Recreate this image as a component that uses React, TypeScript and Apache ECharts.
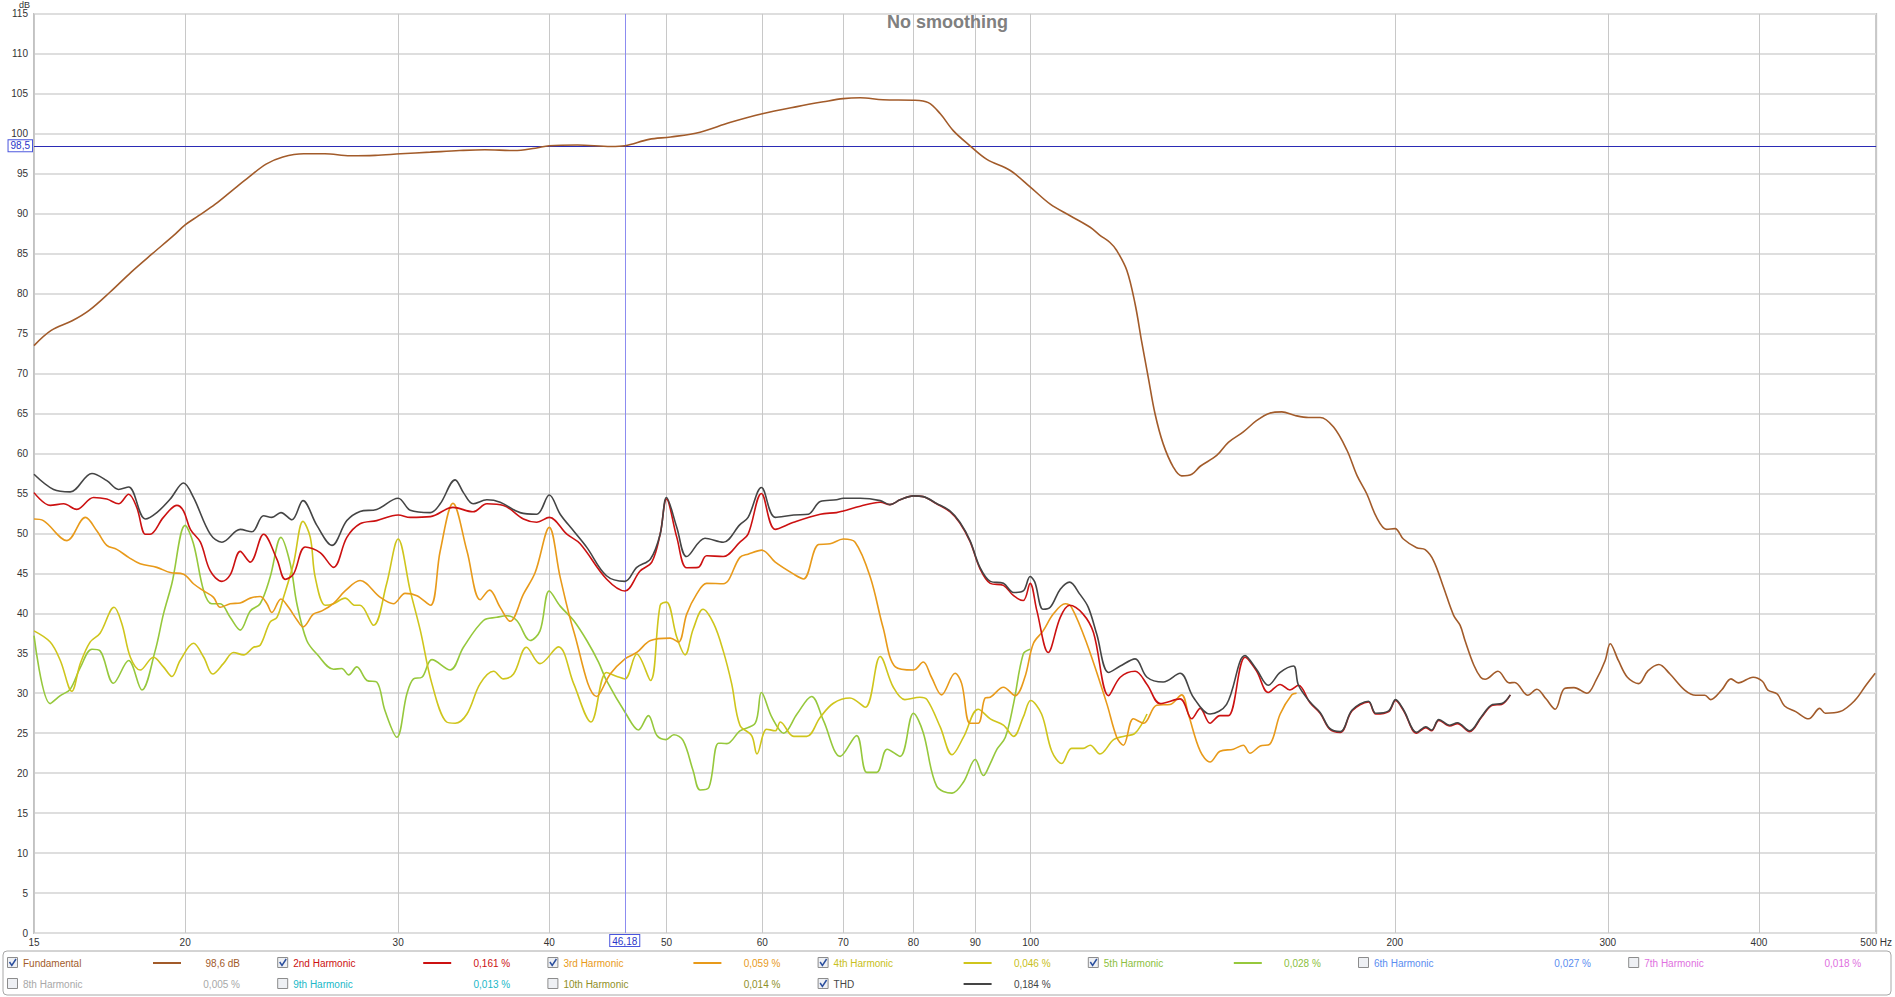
import React, { useEffect, useRef } from "react";
import * as echarts from "echarts";

// ---------- data ----------
const xTickValues = [15, 20, 30, 40, 50, 60, 70, 80, 90, 100, 200, 300, 400, 500];
const cursorFreq = 46.18;
const cursorLevel = 98.5;

const fundamental: [number, number][] = [
  [15, 73.5], [15.5, 75.4], [16.13, 76.6], [16.66, 77.9], [17.34, 80.2], [18.05, 82.7], [18.79, 85], [19.56, 87.25],
  [20, 88.6], [20.52, 89.75], [21.18, 91.2], [21.87, 92.9], [22.59, 94.6], [23.33, 96.2], [24.09, 97.1], [25.07, 97.5],
  [26.09, 97.5], [27.38, 97.25], [28.72, 97.3], [30.14, 97.5], [31.89, 97.7], [33.72, 97.9], [35.38, 98], [37.42, 97.9],
  [38.95, 98.2], [40, 98.5], [42.19, 98.6], [44.99, 98.4], [46.2, 98.5], [48.36, 99.3], [50.4, 99.6], [53.3, 100.2],
  [56.4, 101.4], [60, 102.5], [64.1, 103.4], [67.4, 104], [70, 104.4], [72.3, 104.5], [75.5, 104.25], [80, 104.2],
  [82.3, 103.9], [84.2, 102.5], [86.3, 100.4], [89.1, 98.5], [92, 96.8], [96.2, 95.4], [100, 93.3], [103.8, 91.2],
  [107.8, 89.75], [112, 88.3], [114.1, 87.3], [116.3, 86.4], [117.8, 85.4], [120.1, 82.9], [122, 78.7], [123.5, 74.1],
  [125.1, 69.5], [126.7, 65], [128.7, 61.2], [131.2, 58.3], [133.3, 57.2], [135.9, 57.4], [138.1, 58.4], [142.5, 59.75],
  [145.7, 61.4], [149.9, 62.7], [153.7, 64.1], [157.6, 65.04], [161.3, 65.2], [165.4, 64.75], [169.7, 64.5], [173.5, 64.5],
  [178, 63.3], [182.6, 60.4], [186.1, 57.25], [189.6, 54.96], [193.2, 52], [196.9, 50.5], [200.1, 50.6], [203.3, 49.3],
  [208.5, 48.2], [211.9, 47.96], [215.3, 46.6], [219.4, 43.3], [223.7, 39.75], [226.5, 38.5], [228.6, 36.6], [232.5, 33.5],
  [235.5, 32], [237.5, 31.75], [243.4, 32.75], [248.7, 31.3], [251.3, 31.35], [257.6, 29.75], [262.1, 30.5], [266.7, 29.3],
  [271.4, 28], [276.3, 30.6], [281.3, 30.7], [288.3, 30], [293.3, 31.6], [298.5, 34.1], [301.4, 36.2], [306.1, 34.1],
  [311.4, 32], [318.1, 31.2], [323.8, 32.8], [330.6, 33.6], [337.7, 32.4], [347.3, 30.4], [354.7, 29.75], [360.9, 29.75],
  [364.8, 29.2], [372.6, 30.4], [379.3, 31.8], [384.6, 31.3], [395.6, 32], [402.6, 31.5], [406.9, 30.4], [414.2, 29.9],
  [420, 28.4], [429, 27.7], [439.7, 26.8], [449.1, 28.1], [453.9, 27.5], [466.8, 27.7], [480.1, 29.1], [490.4, 31],
  [499.1, 32.5],
];

const harmonic2: [number, number][] = [
  [15, 55.1], [15.47, 53.5], [15.87, 53.7], [16.27, 53], [16.8, 54.5], [17.23, 54.3], [17.62, 53.7], [17.96, 54.9],
  [18.24, 53.25], [18.54, 49.9], [18.71, 49.9], [19.19, 52], [19.69, 53.5], [19.94, 52.8], [20.2, 50.5], [20.59, 48.9],
  [20.98, 45.3], [21.45, 44], [21.79, 44.8], [22.21, 47.75], [22.64, 46.4], [23.22, 49.9], [23.82, 46.75], [24.2, 44.25],
  [24.58, 44.9], [25.14, 48.3], [25.86, 47.6], [26.53, 45.75], [27.21, 49.5], [27.9, 51.2], [28.8, 51.6], [30, 52.3],
  [30.7, 52], [31.9, 52.1], [33.3, 53.25], [34.6, 52.7], [35.52, 53.7], [36.66, 53.5], [38.08, 51.8], [39.06, 51.4],
  [40, 52], [41.36, 49.9], [42.42, 48.7], [44.6, 44.3], [46.2, 42.8], [47.55, 45.3], [48.62, 46.4], [49.4, 49.9],
  [50, 54.3], [50.99, 49.5], [51.96, 45.7], [53.1, 45.75], [53.97, 47.2], [55.7, 47.1], [57.5, 48.9], [58.4, 49.9],
  [59.9, 55], [61.5, 50.5], [63.7, 51.4], [67, 52.4], [69.1, 52.6], [70, 52.8], [72.3, 53.4], [75.1, 53.9],
  [76.5, 53.6], [78, 54.2], [80, 54.7], [81.5, 54.6], [83.6, 53.7], [85.8, 52.7], [87.4, 51.3], [89.1, 49],
  [90.8, 45.6], [92.6, 43.75], [94.95, 43.5], [96.8, 42.2], [98.6, 41.6], [99.9, 43.75], [101.2, 40.3], [103.4, 35.1],
  [105.8, 39.5], [107.7, 41], [110.5, 39.9], [112.7, 37.6], [116, 29.7], [118.6, 32], [122, 32.75], [124.8, 31.1],
  [128, 28.7], [132.9, 29.3], [135.9, 26.8], [138.1, 28.1], [140.7, 26.25], [143.4, 27.2], [145.7, 27.2], [150.4, 34.5],
  [153.7, 32.8], [157.2, 30.1], [160.8, 31.1], [163.8, 30.4], [166.5, 31], [170.2, 28.8], [173.5, 27.5], [176.7, 25.5],
  [180.3, 25.1], [184.4, 27.8], [190.2, 28.9], [192.9, 27.4], [197.7, 27.7], [200.3, 29.1], [203.4, 27.8], [208.5, 25],
  [212.2, 25.7], [214.5, 25.3], [217.5, 26.6], [222.1, 25.9], [225.3, 26.2], [230.6, 25.2], [235.9, 27], [240.9, 28.5],
  [245.1, 28.6], [249.2, 29.8],
];

const harmonic3: [number, number][] = [
  [15, 51.8], [15.27, 51.6], [15.97, 49.1], [16.54, 52], [16.91, 50.3], [17.23, 48.5], [17.56, 48], [17.96, 47],
  [18.36, 46.2], [18.95, 45.75], [19.44, 45.1], [19.94, 44.9], [20.32, 43.7], [20.72, 42.8], [21.11, 42], [21.38, 40.75],
  [21.79, 41.2], [22.21, 41.3], [22.64, 41.9], [23.07, 42.1], [23.37, 41.2], [23.59, 40.1], [24, 41.8], [24.35, 40.75],
  [24.74, 39.2], [25.03, 38.3], [25.53, 39.9], [25.95, 40.3], [26.53, 41.25], [27.12, 42.8], [27.9, 44.1], [29, 42],
  [29.73, 41.2], [30.4, 42.5], [31.09, 42.2], [31.9, 41], [32.5, 47.8], [33.3, 53.75], [34.2, 47.8], [35.07, 41.7],
  [35.7, 42.9], [36.43, 40.75], [37.13, 39], [38.08, 42.4], [38.94, 45.1], [40, 50.75], [40.84, 44.5], [41.9, 37.8],
  [43.79, 29.6], [44.92, 32.4], [46.2, 34.3], [47.25, 35.1], [48.5, 36.6], [50.35, 36.9], [51.15, 36.4], [51.96, 39.9],
  [52.95, 42.4], [53.97, 43.75], [55.7, 43.7], [57.5, 47], [58.4, 47.4], [59.96, 47.9], [61.5, 46.4], [63.7, 44.9],
  [64.9, 44.3], [66.77, 48.6], [68.27, 48.7], [70, 49.3], [71.6, 48.9], [73.7, 44.5], [75.5, 38.25], [77.3, 33.3],
  [80, 32.9], [81.5, 33.9], [82.8, 32], [84.4, 29.8], [86.6, 32.5], [87.7, 31.2], [89.1, 26.25], [90.5, 26.25],
  [91.7, 29.4], [92.6, 29.5], [94.95, 30.75], [97.1, 29.7], [98.9, 32], [100.5, 36.2], [102.4, 37.8], [104.4, 39.9],
  [106.8, 41.2], [108.1, 40.75], [111.3, 36.2], [115.6, 28.7], [117.8, 24.5], [119.3, 23.5], [121.6, 26.8], [124, 26.25],
  [127.1, 28.5], [130.4, 28.6], [133.3, 29.8], [135, 27.4], [138.1, 22.75], [140.7, 21.4], [143.4, 22.75], [147.1, 23],
  [149.9, 23.5], [151.8, 22.5], [154.8, 23.4], [157.6, 23.6], [160.8, 27.4], [164.4, 29.8], [165.9, 30],
];

const harmonic4: [number, number][] = [
  [15, 37.8], [15.47, 36.4], [15.77, 34.1], [16.12, 30.25], [16.38, 33.7], [16.69, 36.4], [17.01, 37.5], [17.47, 40.75],
  [17.73, 38.7], [18.02, 34.5], [18.36, 32.9], [18.83, 34.5], [19.19, 33.3], [19.5, 32.1], [19.81, 34.1], [20.32, 36.25],
  [20.72, 34.5], [21.08, 32.4], [21.51, 33.7], [21.93, 35.1], [22.35, 34.8], [22.78, 35.75], [23.07, 36], [23.51, 38.9],
  [23.82, 39.5], [24.12, 42], [24.58, 46.2], [25.03, 51.5], [25.38, 49.5], [25.62, 44.5], [26.12, 41], [26.53, 41.2],
  [27.12, 41.9], [27.64, 41], [27.9, 41], [28.63, 38.5], [29.35, 43.7], [30, 49.3], [30.7, 42.8], [31.3, 37.8],
  [31.99, 31.2], [32.9, 26.4], [33.44, 26.25], [34.2, 27.4], [35.07, 31.2], [35.98, 32.75], [36.66, 31.8], [37.37, 32.4],
  [38.3, 35.75], [39.3, 33.7], [40.7, 35.8], [41.9, 31.2], [43.3, 26.4], [44.6, 32.6], [45.5, 32.1], [46.2, 31.8],
  [47.25, 34.9], [48.5, 31.6], [49.4, 41], [50, 41.4], [50.99, 37], [51.8, 34.8], [52.6, 38], [53.6, 40.5],
  [54.7, 38.7], [55.7, 35.3], [56.6, 31.2], [57.5, 26], [58.8, 24.7], [59.4, 22.4], [60.5, 25.5], [61.5, 25.3],
  [62.1, 26.4], [63.7, 24.6], [65.3, 24.6], [67, 27], [68.7, 28.75], [70.9, 29.4], [73, 28.25], [75.1, 34.6],
  [77, 30.75], [78.7, 29.2], [81, 29.5], [82.1, 29.2], [84.2, 25.75], [86.1, 22.3], [88, 24.5], [90.5, 28],
  [92.6, 26.8], [94.95, 26], [96.8, 24.6], [98.6, 27], [100, 29.1], [102.1, 27.4], [104.1, 22.75], [106.1, 21.2],
  [108.1, 23.1], [110.5, 23.1], [112, 23.5], [114.1, 22.4], [117.1, 24.2], [119.3, 24.6], [122, 25], [124.8, 27.4],
];

const harmonic5: [number, number][] = [
  [15, 37.2], [15.47, 28.7], [15.77, 29.7], [16.07, 30.5], [16.38, 33.2], [16.75, 35.5], [17.01, 35.3], [17.45, 31.25],
  [17.96, 34.1], [18.42, 30.4], [18.89, 35.3], [19.19, 39.9], [19.5, 43.7], [20, 51], [20.32, 48.7], [20.72, 42.8],
  [21.04, 41.2], [21.38, 41.2], [21.79, 39.5], [22.21, 37.9], [22.64, 40.3], [23.07, 41.2], [23.51, 44.5], [24, 49.5],
  [24.43, 46.2], [24.74, 41.2], [25.21, 36.6], [25.7, 34.9], [26.53, 33], [26.95, 33.1], [27.3, 32.3], [27.73, 33.3],
  [28.27, 31.6], [28.8, 31.4], [29.26, 27.8], [29.93, 24.5], [30.5, 29.9], [30.89, 31.8], [31.39, 32], [31.99, 34.2],
  [33.12, 32.9], [33.97, 35.75], [35.29, 39.1], [36.2, 39.5], [36.9, 39.7], [37.6, 39.1], [38.57, 36.6], [39.3, 37.8],
  [40, 42.8], [40.84, 40.9], [41.9, 39.1], [42.96, 36.6], [43.93, 33.9], [44.6, 31.6], [46.3, 27.4], [47.4, 25.4],
  [48.3, 27.2], [49.1, 24.7], [49.95, 24.2], [50.7, 24.8], [51.6, 24.1], [52.6, 20.3], [53.3, 17.9], [54.2, 18.2],
  [55.2, 23.75], [56.1, 23.7], [57.5, 25.3], [59.2, 26.25], [59.9, 30.1], [61.1, 27], [62.5, 25], [64.1, 27.4],
  [65.9, 29.6], [67.4, 26.6], [69.6, 22.1], [71.8, 24.7], [73.2, 20.1], [74.6, 20.1], [76.1, 23], [78, 22.1],
  [80, 27.5], [81.5, 25.1], [83.6, 18.4], [86.1, 17.5], [88, 18.9], [90, 21.7], [91.4, 19.7], [92.6, 21.2],
  [93.8, 23], [95.3, 24.5], [96.8, 28.7], [98.6, 34.9], [99.9, 35.5],
];

const thd: [number, number][] = [
  [15, 57.4], [15.57, 55.5], [16.07, 55.2], [16.75, 57.5], [17.23, 56.6], [17.62, 55.5], [17.96, 55.8], [18.54, 51.8],
  [18.95, 52.6], [19.44, 54.3], [19.94, 56.3], [20.32, 54.5], [20.98, 49.9], [21.45, 48.9], [22.21, 50.5], [22.71, 50.2],
  [23.22, 52.2], [23.59, 52], [24, 52.6], [24.51, 51.7], [25.03, 54.1], [25.7, 51], [26.45, 48.5], [27.21, 51.6],
  [27.9, 52.75], [28.8, 53], [30, 54.4], [30.7, 52.9], [31.9, 52.6], [32.5, 53.7], [33.44, 56.7], [33.97, 55.1],
  [34.6, 53.7], [35.52, 54.2], [36.43, 53.9], [37.84, 52.6], [39.06, 52.4], [40, 54.8], [40.84, 52.4], [41.9, 50.3],
  [42.96, 48.25], [44.6, 44.7], [46.2, 44], [47.25, 45.75], [48.5, 46.8], [49.4, 49.9], [50, 54.5], [50.99, 50.75],
  [51.96, 47.1], [53.8, 49.4], [55.7, 48.9], [57.5, 51.1], [58.4, 52], [59.9, 55.75], [61.5, 52], [63.7, 52.3],
  [65.5, 52.4], [67, 54], [69.1, 54.2], [70, 54.4], [72.3, 54.4], [75.1, 54.1], [76.5, 53.6], [78, 54.2],
  [80, 54.7], [81.5, 54.6], [83.6, 53.75], [85.8, 52.8], [87.4, 51.4], [89.1, 49.1], [90.8, 45.75], [92.6, 44],
  [94.95, 43.75], [96.8, 42.6], [98.6, 42.8], [99.9, 44.6], [100.8, 43.9], [102.4, 40.5], [103.8, 40.75], [105.8, 43],
  [107.7, 43.9], [109.8, 42.4], [111.6, 40.75], [113.4, 37.4], [116, 32.6], [118.6, 33.4], [122, 34.3], [124.8, 32],
  [128.7, 31.4], [132.9, 32.5], [136.3, 29.5], [140.7, 27.4], [145.2, 28.6], [150.4, 34.7], [153.7, 33], [157.2, 31],
  [160.8, 32.6], [164.9, 33.4], [166.5, 31], [170.2, 28.9], [173.5, 27.6], [176.7, 25.6], [180.3, 25.2], [184.4, 27.9],
  [190.2, 29], [192.9, 27.5], [197.7, 27.8], [200.3, 29.2], [203.4, 27.9], [208.5, 25.1], [212.2, 25.8], [214.5, 25.4],
  [217.5, 26.7], [222.1, 26], [225.3, 26.3], [230.6, 25.3], [235.9, 27.1], [240.9, 28.6], [245.1, 28.7], [249.2, 29.8],
];

// legend (two rows of seven columns)
const legendLabels = [
  "Fundamental", "2nd Harmonic", "3rd Harmonic", "4th Harmonic", "5th Harmonic", "6th Harmonic", "7th Harmonic",
  "8th Harmonic", "9th Harmonic", "10th Harmonic", "THD",
];
const legendValues = [
  "98,6 dB", "0,161 %", "0,059 %", "0,046 %", "0,028 %", "0,027 %", "0,018 %",
  "0,005 %", "0,013 %", "0,014 %", "0,184 %",
];
const legendChecked = [true, true, true, true, true, false, false, false, false, false, true];

// ---------- styles ----------
const FONT = "'Liberation Sans', Arial, sans-serif";
const legendColors = [
  "#a25b2a", "#cc1111", "#e89a1a", "#cfc51c", "#96c83c", "#5b8df0", "#e070e0",
  "#a8a8a8", "#20b8c8", "#9a9a2e", "#454545",
];
const legendTextColors = [
  "#a25b2a", "#cc1111", "#e89a1a", "#c8c020", "#8cc040", "#5b8df0", "#e070e0",
  "#a8a8a8", "#20b8c8", "#8f8f28", "#454545",
];

function buildLegend(): any[] {
  const els: any[] = [];
  els.push({
    type: "rect",
    shape: { x: 3, y: 951, width: 1888, height: 44, r: 4 },
    style: { fill: "#ffffff", stroke: "#a8a8a8", lineWidth: 1 },
    silent: true,
  });
  legendLabels.forEach((label, i) => {
    const col = i % 7;
    const row = Math.floor(i / 7);
    const x = 7 + col * 270.2;
    const cy = row === 0 ? 963 : 984;
    els.push({
      type: "rect",
      shape: { x: x + 0.5, y: cy - 5.5, width: 10, height: 10 },
      style: { fill: "#eef0f4", stroke: "#8c8c8c", lineWidth: 1 },
      silent: true,
    });
    if (legendChecked[i]) {
      els.push({
        type: "polyline",
        shape: { points: [[x + 2.5, cy - 1], [x + 4.8, cy + 2.5], [x + 9, cy - 4]] },
        style: { stroke: "#2b4f9e", lineWidth: 1.5, fill: null },
        silent: true,
      });
      els.push({
        type: "line",
        shape: { x1: x + 146, y1: cy, x2: x + 174, y2: cy },
        style: { stroke: legendColors[i], lineWidth: 2 },
        silent: true,
      });
    }
    els.push({
      type: "text",
      x: x + 16,
      y: cy,
      style: {
        text: label, fill: legendTextColors[i], font: `10px ${FONT}`,
        verticalAlign: "middle", align: "left",
      },
      silent: true,
    });
    els.push({
      type: "text",
      x: x + 233,
      y: cy,
      style: {
        text: legendValues[i], fill: legendTextColors[i], font: `10px ${FONT}`,
        verticalAlign: "middle", align: "right",
      },
      silent: true,
    });
  });
  return els;
}

function lineSeries(name: string, data: [number, number][], color: string, z: number, extra: any = {}) {
  return {
    name,
    type: "line",
    data,
    showSymbol: false,
    smooth: 0.35,
    z,
    lineStyle: { color, width: 1.6 },
    itemStyle: { color },
    emphasis: { disabled: true },
    ...extra,
  };
}

export default function App() {
  const ref = useRef<HTMLDivElement>(null);
  useEffect(() => {
    if (!ref.current) return;
    const chart = echarts.init(ref.current, undefined, { renderer: "svg" });
    const cursorLabel = {
      show: true,
      position: "start",
      color: "#2a35c8",
      fontSize: 10,
      fontFamily: FONT,
      backgroundColor: "#ffffff",
      borderColor: "#4a55dd",
      borderWidth: 1,
      padding: [1, 2, 0, 2],
    };
    chart.setOption({
      animation: false,
      backgroundColor: "#ffffff",
      textStyle: { fontFamily: FONT },
      title: {
        text: "No smoothing",
        left: "center",
        top: 8,
        textStyle: { fontSize: 18, fontWeight: "bold", color: "#808080", fontFamily: FONT },
      },
      grid: {
        left: 34,
        top: 13,
        width: 1843,
        height: 920,
        show: true,
        borderColor: "#c2c2c2",
        borderWidth: 2,
        backgroundColor: "#ffffff",
        containLabel: false,
      },
      xAxis: {
        type: "log",
        logBase: 10,
        min: 15,
        max: 500,
        axisLine: { show: false },
        axisTick: { show: true, length: 0, customValues: xTickValues },
        axisLabel: {
          customValues: xTickValues,
          color: "#333",
          fontSize: 10,
          margin: 4,
          fontFamily: FONT,
          formatter: (v: number) => (Math.round(v) === 500 ? "500 Hz" : String(Math.round(v))),
        },
        splitLine: { show: true, lineStyle: { color: "#c8c8c8", width: 1 } },
      },
      yAxis: {
        type: "value",
        min: 0,
        max: 115,
        interval: 5,
        name: "dB",
        nameLocation: "end",
        nameGap: 3,
        nameTextStyle: { fontSize: 9, color: "#333", align: "right", padding: [0, 4, 0, 0] },
        axisLine: { show: false },
        axisTick: { show: false },
        axisLabel: { color: "#333", fontSize: 10, margin: 6, fontFamily: FONT },
        splitLine: { show: true, lineStyle: { color: "#dedede", width: 2 } },
      },
      series: [
        lineSeries("5th Harmonic", harmonic5, legendColors[4], 2),
        lineSeries("4th Harmonic", harmonic4, legendColors[3], 3),
        lineSeries("3rd Harmonic", harmonic3, legendColors[2], 4),
        lineSeries("2nd Harmonic", harmonic2, legendColors[1], 5),
        lineSeries("THD", thd, legendColors[10], 6),
        lineSeries("Fundamental", fundamental, legendColors[0], 7, {
          markLine: {
            silent: true,
            symbol: ["none", "none"],
            animation: false,
            data: [
              {
                xAxis: cursorFreq,
                lineStyle: { color: "#8c8cf0", width: 1, type: "solid" },
                label: { ...cursorLabel, distance: 2, formatter: "46,18" },
              },
              {
                yAxis: cursorLevel,
                lineStyle: { color: "#2b2bb5", width: 1, type: "solid" },
                label: { ...cursorLabel, distance: 2, formatter: "98,5" },
              },
            ],
          },
        }),
      ],
      graphic: buildLegend(),
    });
    return () => chart.dispose();
  }, []);
  return (
    <div
      ref={ref}
      style={{ position: "fixed", left: 0, top: 0, width: 1895, height: 997, background: "#fff" }}
    />
  );
}
